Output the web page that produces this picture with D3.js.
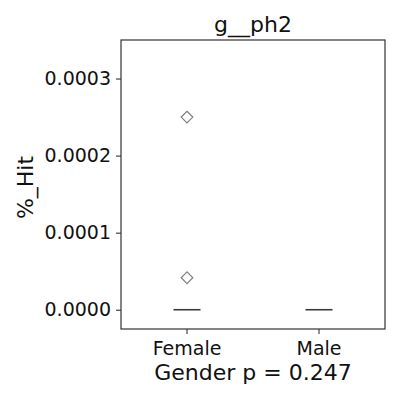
<!DOCTYPE html>
<html><head><meta charset="utf-8">
<script src="https://cdn.jsdelivr.net/npm/d3@7"></script>
<style>body{margin:0;background:#fff;}text{font-family:"DejaVu Sans",sans-serif;}</style>
</head><body>
<script>
const categories = ["Female", "Male"];
const medians = [0, 0];
const q1 = [0, 0];
const q3 = [0, 0];
const fliersFemale = [0.00025, 0.0000415];
const fliersMale = [];
const yTicks = [0, 0.0001, 0.0002, 0.0003];
const title = "g__ph2";
const xLabel = "Gender p = 0.247";
const yLabel = "%_Hit";

const W = 400, H = 400;
const m = {left: 121, right: 15, top: 40, bottom: 71};
const svg = d3.select("body").append("svg").attr("width", W).attr("height", H);
const x = d3.scaleBand().domain(categories).range([m.left, W - m.right]).padding(0);
const y = d3.scaleLinear().domain([-0.000025, 0.00035]).range([H - m.bottom, m.top]);

const g = svg.append("g");
const fliers = [fliersFemale, fliersMale];
categories.forEach((c, i) => {
  const cx = x(c) + x.bandwidth() / 2;
  const hw = 13.5;
  g.append("rect").attr("x", cx - hw).attr("width", 2 * hw)
    .attr("y", y(q3[i])).attr("height", Math.max(0, y(q1[i]) - y(q3[i])))
    .attr("fill", "none").attr("stroke", "#3a3a3a").attr("stroke-width", 1.5);
  g.append("line").attr("x1", cx - hw).attr("x2", cx + hw)
    .attr("y1", y(medians[i])).attr("y2", y(medians[i]))
    .attr("stroke", "#3a3a3a").attr("stroke-width", 1.6);
  fliers[i].forEach(v => {
    const py = y(v), r = 5.8;
    g.append("path").attr("d", `M${cx},${py - r}L${cx + r},${py}L${cx},${py + r}L${cx - r},${py}Z`)
      .attr("fill", "none").attr("stroke", "#7f7f7f").attr("stroke-width", 1.2);
  });
});

const yAxis = d3.axisLeft(y).tickValues(yTicks).tickFormat(d3.format(".4f")).tickSize(5).tickPadding(5);
const ya = svg.append("g").attr("transform", `translate(${m.left},0)`).call(yAxis);
ya.attr("font-size", null).attr("font-family", null);
ya.select(".domain").remove();
ya.selectAll("text").style("font-size", "19px").style("font-family", "DejaVu Sans").attr("fill", "#111");
ya.selectAll("line").attr("stroke", "#333").attr("stroke-width", 1.1);

const xAxis = d3.axisBottom(x).tickSize(5).tickPadding(4);
const xa = svg.append("g").attr("transform", `translate(0,${H - m.bottom})`).call(xAxis);
xa.attr("font-size", null).attr("font-family", null);
xa.select(".domain").remove();
xa.selectAll("text").style("font-size", "19px").style("font-family", "DejaVu Sans").attr("fill", "#111")
  .attr("y", 26).attr("dy", null);
xa.selectAll("line").attr("stroke", "#333").attr("stroke-width", 1.1);

svg.append("rect").attr("x", m.left).attr("y", m.top)
  .attr("width", W - m.left - m.right).attr("height", H - m.top - m.bottom)
  .attr("fill", "none").attr("stroke", "#333").attr("stroke-width", 1.2);

svg.append("text").attr("x", (m.left + W - m.right) / 2).attr("y", 32)
  .attr("text-anchor", "middle").style("font-size", "22px").attr("fill", "#111").text(title);
svg.append("text").attr("x", (m.left + W - m.right) / 2).attr("y", 380)
  .attr("text-anchor", "middle").style("font-size", "22px").attr("fill", "#111").text(xLabel);
svg.append("text").attr("transform", `translate(33,${(m.top + H - m.bottom) / 2 + 3}) rotate(-90)`)
  .attr("text-anchor", "middle").style("font-size", "22px").attr("fill", "#111").text(yLabel);
</script>
</body></html>
